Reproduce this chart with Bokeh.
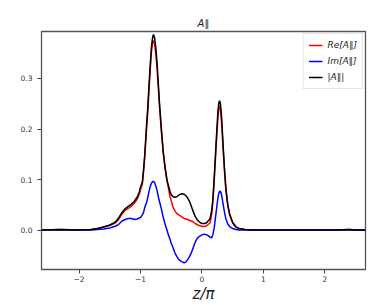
from bokeh.plotting import figure
from bokeh.models import Range1d, Legend, LegendItem, FixedTicker, PrintfTickFormatter
from bokeh.embed import file_html
from bokeh.resources import INLINE

z = [-2.61, -2.3, -2.0, -1.8, -1.7, -1.6, -1.5, -1.45, -1.4, -1.35, -1.3, -1.25, -1.2, -1.15, -1.1,
     -1.05, -1.02, -1.0, -0.97, -0.95, -0.93, -0.9, -0.88, -0.86, -0.84, -0.82, -0.80, -0.787, -0.77,
     -0.75, -0.73, -0.71, -0.69, -0.66, -0.63, -0.6, -0.57, -0.55, -0.52, -0.5, -0.47, -0.44, -0.41,
     -0.38, -0.35, -0.32, -0.29, -0.26, -0.23, -0.2, -0.17, -0.14, -0.11, -0.08, -0.05, -0.02, 0.01,
     0.04, 0.07, 0.1, 0.13, 0.16, 0.18, 0.2, 0.22, 0.24, 0.26, 0.275, 0.287, 0.3, 0.315, 0.33, 0.35,
     0.37, 0.39, 0.42, 0.45, 0.5, 0.55, 0.6, 0.7, 0.8, 1.5, 2.2, 2.4, 2.5, 2.66]

abs_a = [0, 0.001, 0, 0.001, 0.003, 0.006, 0.010, 0.013, 0.017, 0.025, 0.035, 0.042, 0.047, 0.051, 0.057,
         0.066, 0.075, 0.085, 0.095, 0.12, 0.15, 0.21, 0.245, 0.29, 0.33, 0.365, 0.383, 0.387, 0.38,
         0.36, 0.33, 0.29, 0.25, 0.2, 0.155, 0.125, 0.1, 0.09, 0.077, 0.07, 0.066, 0.065, 0.066,
         0.069, 0.071, 0.072, 0.071, 0.068, 0.063, 0.056, 0.046, 0.036, 0.027, 0.021, 0.017, 0.014, 0.013,
         0.013, 0.014, 0.018, 0.022, 0.04, 0.065, 0.105, 0.15, 0.195, 0.235, 0.252, 0.256, 0.25, 0.23, 0.2, 0.155,
         0.115, 0.082, 0.05, 0.032, 0.015, 0.007, 0.003, 0.001, 0, 0, 0, 0.001, 0, 0]

re_a = [0, 0.001, 0, 0.001, 0.003, 0.006, 0.009, 0.012, 0.015, 0.022, 0.032, 0.039, 0.043, 0.047, 0.053,
        0.062, 0.071, 0.080, 0.090, 0.115, 0.145, 0.203, 0.235, 0.28, 0.32, 0.355, 0.372, 0.375, 0.368,
        0.348, 0.32, 0.282, 0.243, 0.195, 0.152, 0.122, 0.098, 0.086, 0.066, 0.058, 0.045, 0.038, 0.033,
        0.030, 0.028, 0.025, 0.023, 0.022, 0.021, 0.019, 0.018, 0.016, 0.013, 0.011, 0.009, 0.008, 0.007,
        0.007, 0.008, 0.011, 0.014, 0.032, 0.06, 0.1, 0.142, 0.185, 0.224, 0.24, 0.245, 0.24, 0.22, 0.19, 0.148,
        0.11, 0.078, 0.048, 0.03, 0.014, 0.006, 0.003, 0.001, 0, 0, 0, 0, 0, 0]

im_a = [0, 0, 0, 0, 0.001, 0.002, 0.004, 0.006, 0.008, 0.012, 0.018, 0.021, 0.023, 0.023, 0.021,
        0.022, 0.024, 0.025, 0.030, 0.035, 0.045, 0.055, 0.065, 0.077, 0.087, 0.093, 0.096, 0.096, 0.094,
        0.087, 0.078, 0.066, 0.056, 0.042, 0.025, 0.012, 0.0, -0.008, -0.018, -0.026, -0.035, -0.045, -0.052,
        -0.058, -0.061, -0.063, -0.065, -0.063, -0.058, -0.052, -0.044, -0.034, -0.024, -0.017, -0.013, -0.011, -0.009,
        -0.008, -0.009, -0.011, -0.014, -0.015, -0.008, 0.005, 0.025, 0.045, 0.064, 0.073, 0.077, 0.077, 0.072, 0.062, 0.047,
        0.033, 0.022, 0.012, 0.007, 0.003, 0.001, 0.0, 0, 0, 0, 0, 0.001, 0, 0]

x_ticks = [-2, -1, 0, 1, 2]
x_tick_labels = {-2: "\u22122", -1: "\u22121", 0: "0", 1: "1", 2: "2"}
y_ticks = [0.0, 0.1, 0.2, 0.3]
labels = ["Re[A\u2225]", "Im[A\u2225]", "|A\u2225|"]
title_text = "A\u2225"
x_label = "z/\u03c0"

X0, X1 = -2.61, 2.66
Y0, Y1 = -0.078, 0.393

p = figure(width=374, height=305, output_backend="svg", toolbar_location=None,
           x_range=Range1d(X0, X1), y_range=Range1d(Y0, Y1),
           min_border_left=41, min_border_right=9, min_border_top=31, min_border_bottom=33)
p.grid.visible = False
p.outline_line_color = "#555555"
p.outline_line_width = 1.3
p.background_fill_color = "white"
p.border_fill_color = "white"

p.title.text = title_text
p.title.align = "center"
p.title.text_font = "DejaVu Sans"
p.title.text_font_style = "italic"
p.title.text_font_size = "10px"
p.title.text_color = "#222222"
p.title.standoff = 5
p.title.offset = 2

for ax in (p.xaxis[0], p.yaxis[0]):
    ax.axis_line_color = None
    ax.major_tick_line_color = "#444444"
    ax.major_tick_out = 4
    ax.major_tick_in = 0
    ax.minor_tick_line_color = None
    ax.major_label_text_font = "DejaVu Sans"
    ax.major_label_text_font_size = "7.5px"
    ax.major_label_text_color = "#333333"

p.xaxis[0].ticker = FixedTicker(ticks=x_ticks)
p.xaxis[0].major_label_overrides = x_tick_labels
p.xaxis[0].major_label_standoff = 2
p.xaxis[0].axis_label = x_label
p.xaxis[0].axis_label_text_font = "DejaVu Sans"
p.xaxis[0].axis_label_text_font_style = "italic"
p.xaxis[0].axis_label_text_font_size = "15px"
p.xaxis[0].axis_label_text_color = "#222222"
p.xaxis[0].axis_label_standoff = 0
p.yaxis[0].ticker = FixedTicker(ticks=y_ticks)
p.yaxis[0].formatter = PrintfTickFormatter(format="%.1f")
p.yaxis[0].major_label_standoff = 5

r1 = p.line(z, re_a, line_color="#ff0000", line_width=1.5)
r2 = p.line(z, im_a, line_color="#0000ff", line_width=1.5)
r3 = p.line(z, abs_a, line_color="#000000", line_width=1.5)

legend = Legend(items=[LegendItem(label=labels[0], renderers=[r1]),
                       LegendItem(label=labels[1], renderers=[r2]),
                       LegendItem(label=labels[2], renderers=[r3])],
                location="top_right", margin=2, padding=5, spacing=4,
                glyph_width=14, glyph_height=12, label_height=12, label_standoff=5,
                label_text_font="DejaVu Sans", label_text_font_style="italic",
                label_text_font_size="9px", label_text_color="#222222",
                border_line_color="#cccccc", border_line_width=1,
                background_fill_color="white", background_fill_alpha=0.9)
p.add_layout(legend, "center")

open("out.html", "w").write(file_html(p, INLINE))
